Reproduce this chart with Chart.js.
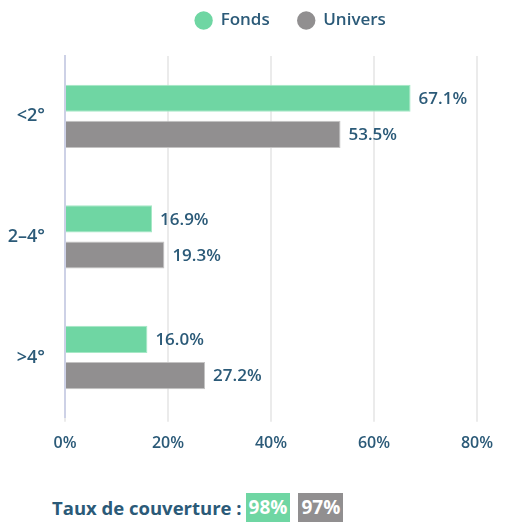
<!DOCTYPE html>
<html>
<head>
<meta charset="utf-8">
<script src="https://cdn.jsdelivr.net/npm/chart.js@4/dist/chart.umd.min.js"></script>
<style>
  body { margin: 0; background: #fff; font-family: "Open Sans", sans-serif; }
  #wrap { position: absolute; left: 0; top: 0; width: 509px; height: 465px; }
  #cover { position: absolute; left: 52px; top: 493px; height: 29px; display: flex; align-items: center;
           font-size: 18.5px; font-weight: 700; color: #2b5a78; }
  #cover span.box { display: inline-block; height: 29px; line-height: 29px; padding: 0 3px; color: #fff;
                    font-size: 19px; }
</style>
</head>
<body>
<div id="wrap"><canvas id="chart"></canvas></div>
<div id="cover">Taux de couverture :<span class="box" style="background:#6fd6a3;margin-left:4px">98%</span><span class="box" style="background:#918f90;margin-left:8px">97%</span></div>
<script>
const categories = ["<2°", "2–4°", ">4°"];
const fonds = [67.1, 16.9, 16.0];
const univers = [53.5, 19.3, 27.2];
const xTicks = [0, 20, 40, 60, 80];

const textColor = "#2b5a78";
const green = "#6fd6a3";
const grey = "#918f90";

// value text at the end of each bar
const valueLabels = {
  id: "valueLabels",
  afterDatasetsDraw(chart) {
    const ctx = chart.ctx;
    ctx.save();
    ctx.font = "600 17px 'Open Sans'";
    ctx.fillStyle = textColor;
    ctx.textBaseline = "middle";
    chart.data.datasets.forEach((ds, i) => {
      chart.getDatasetMeta(i).data.forEach((bar, j) => {
        ctx.fillText(ds.data[j].toFixed(1) + "%", bar.x + 8, bar.y + 1);
      });
    });
    ctx.restore();
  }
};

// legend sits a bit right of centre, with more room under it
const legendShift = {
  id: "legendShift",
  beforeLayout(chart) {
    const lg = chart.legend;
    if (lg && !lg._extra) {
      const fit = lg.fit;
      lg.fit = function () { fit.call(this); this.height += 17; };
      lg._extra = true;
    }
  },
  afterLayout(chart) {
    chart.legend.left += 52;
    chart.legend.right += 52;
  }
};

new Chart("chart", {
  type: "bar",
  data: {
    labels: categories,
    datasets: [
      { label: "Fonds", data: fonds, backgroundColor: green, borderColor: "#a6e8c6", borderWidth: 1 },
      { label: "Univers", data: univers, backgroundColor: grey, borderColor: "#c4c3c3", borderWidth: 1 }
    ]
  },
  options: {
    indexAxis: "y",
    responsive: true,
    maintainAspectRatio: false,
    animation: false,
    barPercentage: 0.75,
    categoryPercentage: 0.6,
    layout: { padding: { top: -16, right: 32, left: 0, bottom: 0 } },
    plugins: {
      tooltip: { enabled: false },
      legend: {
        position: "top",
        labels: {
          usePointStyle: true,
          boxWidth: 17,
          boxHeight: 13,
          padding: 28,
          color: textColor,
          font: { family: "Open Sans", size: 17, weight: "600" },
          generateLabels: chart => chart.data.datasets.map((ds, i) => ({
            text: ds.label,
            fillStyle: ds.backgroundColor,
            strokeStyle: ds.backgroundColor,
            lineWidth: 0,
            pointStyle: "circle",
            fontColor: textColor,
            datasetIndex: i
          }))
        }
      }
    },
    scales: {
      x: {
        min: 0,
        max: 80,
        afterBuildTicks: s => { s.ticks = xTicks.map(v => ({ value: v })); },
        ticks: {
          callback: v => v + "%",
          color: textColor,
          padding: 12,
          font: { family: "Open Sans", size: 16, weight: "600" }
        },
        grid: { color: "#ebebeb", lineWidth: 2, drawTicks: true, tickLength: 4 },
        border: { display: false }
      },
      y: {
        afterFit: s => { s.width = 65; },
        ticks: {
          color: textColor,
          padding: 20,
          font: { family: "Open Sans", size: 18, weight: "600" }
        },
        grid: { display: false, drawTicks: false },
        border: { display: true, color: "#cdd1e6", width: 2 }
      }
    }
  },
  plugins: [valueLabels, legendShift]
});
</script>
</body>
</html>
